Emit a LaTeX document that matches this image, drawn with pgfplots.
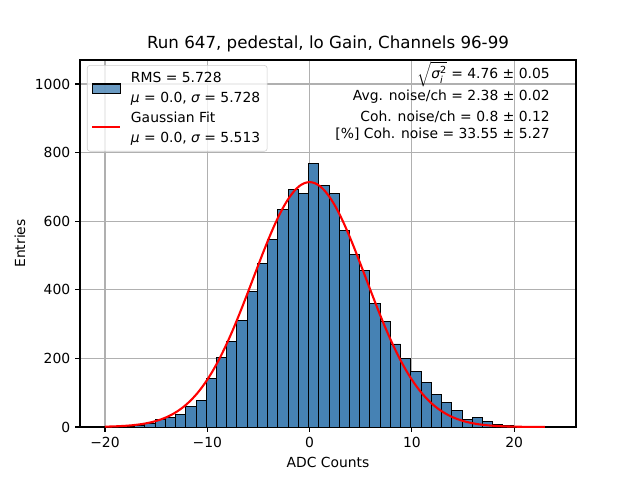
\documentclass[border=0pt]{standalone}
\usepackage{fontspec}
\setmainfont{DejaVu Sans}
\usepackage{pgfplots}
\pgfplotsset{compat=1.18}
\definecolor{steelblue}{RGB}{70,130,180}
\definecolor{gridgray}{RGB}{176,176,176}
\definecolor{legedge}{RGB}{204,204,204}
\begin{document}
\begin{tikzpicture}
\begin{axis}[
  scale only axis,
  width=357.12pt, height=264.24pt,
  xmin=-22.44, xmax=26.04, ymin=0, ymax=1070,
  xtick={-20,-10,0,10,20},
  xticklabels={−20,−10,0,10,20},
  ytick={0,200,400,600,800,1000},
  yticklabels={0,200,400,600,800,1000},
  grid=major,
  grid style={color=gridgray, line width=0.8pt},
  tick align=outside,
  tick pos=left,
  major tick length=3.5pt,
  every tick/.style={black, line width=0.8pt},
  axis line style={line width=0.8pt},
  tick label style={font=\fontsize{10}{12}\selectfont},
  xlabel={ADC Counts}, ylabel={Entries},
  label style={font=\fontsize{10}{12}\selectfont},
  title={Run 647, pedestal, lo Gain, Channels 96-99},
  title style={font=\fontsize{12}{14}\selectfont, yshift=-4pt},
  legend style={at={(0.014,0.986)}, anchor=north west, draw=legedge, rounded corners=2pt,
    fill=white, fill opacity=0.8, text opacity=1, font=\fontsize{10}{14.4}\selectfont,
    inner sep=3pt, row sep=1pt,
    /tikz/every odd column/.append style={column sep=5pt}},
  legend cell align=left,
  legend style={cells={align=left}},
]
\addplot[ybar interval, fill=steelblue, draw=black, line width=0.7pt,
  legend image code/.code={\draw[sharp corners,fill=steelblue,draw=black,line width=0.8pt] (0pt,-3.25pt) rectangle (20pt,3.25pt);}]
coordinates {
(-20.1,1) (-19.1,1) (-18.1,2) (-17.1,4) (-16.1,9) (-15.1,23) (-14.1,27) (-13.1,37)
(-12.1,59) (-11.1,76) (-10.1,141) (-9.1,203) (-8.1,249) (-7.1,310) (-6.1,395) (-5.1,477)
(-4.1,547) (-3.1,635) (-2.1,693) (-1.1,681) (-0.1,767) (0.9,705) (1.9,681) (2.9,574)
(3.9,504) (4.9,455) (5.9,359) (6.9,308) (7.9,242) (8.9,199) (9.9,161) (10.9,130)
(11.9,96) (12.9,72) (13.9,47) (14.9,22) (15.9,27) (16.9,15) (17.9,8) (18.9,3)
(19.9,2) (20.9,1) (21.9,1) (22.9,1) (23.9,1)
};
\addlegendentry{RMS = 5.728\\{\itshape μ} = 0.0, {\itshape σ} = 5.728}
\addplot[red, line width=1.5pt, smooth,
  legend image code/.code={\draw[sharp corners,red,line width=1.5pt] (0pt,0.8pt) -- (20pt,0.8pt);}]
coordinates {
(-20,1.0) (-19.5,1.4) (-19,1.9) (-18.5,2.6) (-18,3.5) (-17.5,4.6) (-17,6.2) (-16.5,8.1)
(-16,10.6) (-15.5,13.7) (-15,17.6) (-14.5,22.5) (-14,28.4) (-13.5,35.6) (-13,44.3)
(-12.5,54.6) (-12,66.8) (-11.5,81.1) (-11,97.5) (-10.5,116.5) (-10,137.8) (-9.5,161.8)
(-9,188.4) (-8.5,217.6) (-8,249.2) (-7.5,283.0) (-7,318.9) (-6.5,356.4) (-6,394.9)
(-5.5,434.1) (-5,473.2) (-4.5,511.7) (-4,548.8) (-3.5,583.7) (-3,615.8) (-2.5,644.3)
(-2,668.5) (-1.5,688.1) (-1,702.4) (-0.5,711.1) (0,714)
(0.5,711.1) (1,702.4) (1.5,688.1) (2,668.5) (2.5,644.3) (3,615.8) (3.5,583.7) (4,548.8)
(4.5,511.7) (5,473.2) (5.5,434.1) (6,394.9) (6.5,356.4) (7,318.9) (7.5,283.0) (8,249.2)
(8.5,217.6) (9,188.4) (9.5,161.8) (10,137.8) (10.5,116.5) (11,97.5) (11.5,81.1) (12,66.8)
(12.5,54.6) (13,44.3) (13.5,35.6) (14,28.4) (14.5,22.5) (15,17.6) (15.5,13.7) (16,10.6)
(16.5,8.1) (17,6.2) (17.5,4.6) (18,3.5) (18.5,2.6) (19,1.9) (19.5,1.4) (20,1.0)
(21,0.5) (22,0.25) (23,0.12)
};
\addlegendentry{Gaussian Fit\\{\itshape μ} = 0.0, {\itshape σ} = 5.513}
\node[anchor=east, inner sep=0pt, font=\fontsize{10}{12}\selectfont] at (rel axis cs:0.9476,0.962)
  {$\sqrt{\mbox{\itshape σ}_{\mbox{\fontsize{7}{8}\selectfont\itshape i}}^{\mbox{\fontsize{7}{8}\selectfont 2}}}$ = 4.76 ± 0.05};
\node[anchor=east, inner sep=0pt, font=\fontsize{10}{12}\selectfont] at (rel axis cs:0.9476,0.899)
  {Avg. noise/ch = 2.38 ± 0.02};
\node[anchor=east, inner sep=0pt, font=\fontsize{10}{12}\selectfont] at (rel axis cs:0.9476,0.845)
  {Coh. noise/ch = 0.8 ± 0.12};
\node[anchor=east, inner sep=0pt, font=\fontsize{10}{12}\selectfont] at (rel axis cs:0.9476,0.798)
  {[\%] Coh. noise = 33.55 ± 5.27};
\end{axis}
\pgfresetboundingbox
\path ([xshift=-57.6pt,yshift=-38.16pt]current axis.south west) rectangle ([xshift=46.08pt,yshift=43.2pt]current axis.north east);
\end{tikzpicture}
\end{document}
